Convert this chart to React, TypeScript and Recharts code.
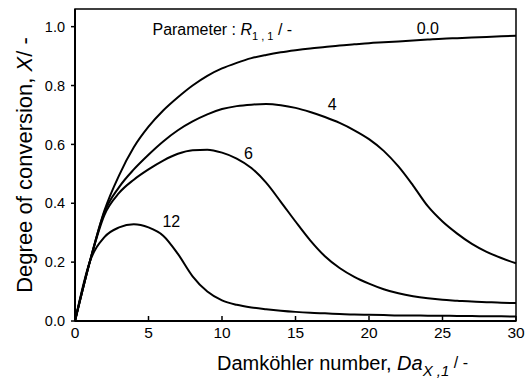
import {
  LineChart,
  Line,
  XAxis,
  YAxis,
  ReferenceArea,
  ReferenceDot,
} from "recharts";

// Damköhler number Da_X,1
const da = [0, 1, 2, 3, 4, 5, 6, 7, 8, 9, 10, 11, 12, 13, 14, 15, 16, 17, 18, 19, 20, 21, 22, 23, 24, 25, 26, 27, 28, 29, 30];

// degree of conversion X for each parameter R_1,1
const r00 = [0, 0.2, 0.375, 0.495, 0.59, 0.66, 0.715, 0.76, 0.8, 0.833, 0.858, 0.877, 0.893, 0.904, 0.913, 0.92, 0.926, 0.931, 0.936, 0.94, 0.944, 0.947, 0.95, 0.953, 0.956, 0.959, 0.961, 0.963, 0.965, 0.967, 0.969];
const r4 = [0, 0.2, 0.37, 0.455, 0.515, 0.565, 0.61, 0.648, 0.678, 0.702, 0.72, 0.73, 0.735, 0.737, 0.733, 0.724, 0.71, 0.693, 0.673, 0.648, 0.618, 0.578, 0.525, 0.46, 0.39, 0.338, 0.297, 0.262, 0.235, 0.214, 0.196];
const r6 = [0, 0.2, 0.36, 0.435, 0.48, 0.515, 0.545, 0.568, 0.58, 0.582, 0.572, 0.552, 0.52, 0.47, 0.405, 0.338, 0.274, 0.22, 0.18, 0.15, 0.127, 0.108, 0.094, 0.084, 0.077, 0.072, 0.069, 0.066, 0.064, 0.062, 0.061];
const r12 = [0, 0.2, 0.285, 0.318, 0.329, 0.318, 0.29, 0.228, 0.152, 0.1, 0.07, 0.055, 0.046, 0.04, 0.035, 0.031, 0.028, 0.026, 0.024, 0.022, 0.021, 0.02, 0.019, 0.019, 0.018, 0.018, 0.017, 0.017, 0.016, 0.016, 0.015];

const xTicks = [0, 5, 10, 15, 20, 25, 30];
const yTicks = [0, 0.2, 0.4, 0.6, 0.8, 1.0];

// curve labels: [text, Da, X]
const curveLabels: [string, number, number][] = [
  ["0.0", 24, 0.995],
  ["4", 17.5, 0.737],
  ["6", 11.8, 0.568],
  ["12", 6.55, 0.337],
];

const data = da.map((d, i) => ({
  da: d,
  r00: r00[i],
  r4: r4[i],
  r6: r6[i],
  r12: r12[i],
}));

const FONT = "'Liberation Sans', Arial, Helvetica, sans-serif";

const XTitle = (props: any) => {
  const { viewBox } = props;
  const cx = viewBox.x + viewBox.width / 2 + 47;
  return (
    <text x={cx} y={370} textAnchor="middle" fontSize={20} fontFamily={FONT} fill="#000">
      Damköhler number, <tspan fontStyle="italic">Da</tspan>
      <tspan fontStyle="italic" fontSize={15} dy={6}>X ,1</tspan>
      <tspan fontSize={16} dy={-8}> / -</tspan>
    </text>
  );
};

const YTitle = (props: any) => {
  const { viewBox } = props;
  const cy = viewBox.y + viewBox.height / 2;
  const cx = 32;
  return (
    <text
      x={cx}
      y={cy}
      transform={`rotate(-90, ${cx}, ${cy})`}
      textAnchor="middle"
      fontSize={22}
      fontFamily={FONT}
      fill="#000"
    >
      Degree of conversion, <tspan fontStyle="italic">X</tspan>/ -
    </text>
  );
};

const ParamLabel = (props: any) => {
  const { viewBox } = props;
  return (
    <text x={viewBox.x} y={viewBox.y} fontSize={16} fontFamily={FONT} fill="#000">
      Parameter : <tspan fontStyle="italic">R</tspan>
      <tspan fontSize={11} dy={5}>1 , 1</tspan>
      <tspan dy={-5}> / -</tspan>
    </text>
  );
};

export default function App() {
  return (
    <div style={{ position: "absolute", left: 0, top: 0, background: "#fff" }}>
      <LineChart
        width={532}
        height={387}
        data={data}
        margin={{ top: 9, right: 16, bottom: 36, left: 15 }}
      >
        <ReferenceArea
          x1={0}
          x2={30}
          y1={0}
          y2={1.06}
          fill="none"
          stroke="#000"
          strokeWidth={1.5}
        />
        <XAxis
          dataKey="da"
          type="number"
          domain={[0, 30]}
          ticks={xTicks}
          height={30}
          tickSize={-5}
          tickMargin={11}
          axisLine={{ stroke: "#000", strokeWidth: 2 }}
          tickLine={{ stroke: "#000", strokeWidth: 1.5 }}
          tick={{ fill: "#000", fontSize: 15.5, fontFamily: FONT }}
          label={{ content: XTitle }}
        />
        <YAxis
          type="number"
          domain={[0, 1.06]}
          ticks={yTicks}
          width={60}
          tickSize={4}
          tickMargin={6}
          tickFormatter={(v: number) => v.toFixed(1)}
          axisLine={{ stroke: "#000", strokeWidth: 2 }}
          tickLine={{ stroke: "#000", strokeWidth: 1.5 }}
          tick={{ fill: "#000", fontSize: 14.5, fontFamily: FONT }}
          label={{ content: YTitle }}
        />
        <Line type="monotone" dataKey="r00" stroke="#000" strokeWidth={2} dot={false} isAnimationActive={false} />
        <Line type="monotone" dataKey="r4" stroke="#000" strokeWidth={2} dot={false} isAnimationActive={false} />
        <Line type="monotone" dataKey="r6" stroke="#000" strokeWidth={2} dot={false} isAnimationActive={false} />
        <Line type="monotone" dataKey="r12" stroke="#000" strokeWidth={2} dot={false} isAnimationActive={false} />
        <ReferenceDot x={5.27} y={0.972} r={0} stroke="none" label={{ content: ParamLabel }} />
        {curveLabels.map(([t, x, y]) => (
          <ReferenceDot
            key={t}
            x={x}
            y={y}
            r={0}
            stroke="none"
            label={{
              value: t,
              position: "center",
              fill: "#000",
              fontSize: 16,
              fontFamily: FONT,
            }}
          />
        ))}
      </LineChart>
    </div>
  );
}
